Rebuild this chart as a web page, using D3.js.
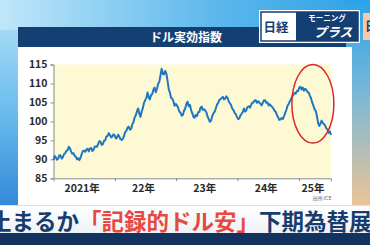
<!DOCTYPE html>
<html>
<head>
<meta charset="utf-8">
<script src="https://cdn.jsdelivr.net/npm/d3@7"></script>
<style>
  html, body { margin: 0; padding: 0; overflow: hidden; }
  body { width: 370px; height: 245px; }
  text { font-family: "Noto Sans CJK JP", "Noto Sans", sans-serif; }
</style>
</head>
<body>
<div id="chart"></div>
<script>
// dollar effective index, weekly from 2021-01-01
const startDate = "2021-01-01";
const stepDays = 7;
const indexValues = [
  89.8, 90.9, 90.5, 89.9, 90.2, 91.1, 91.0, 90.2, 90.6, 91.4,
  91.6, 92.3, 92.4, 93.3, 92.9, 92.0, 91.5, 91.6, 90.9, 90.7,
  90.0, 90.3, 89.8, 90.4, 91.4, 92.2, 92.3, 92.0, 92.6, 92.8,
  92.1, 92.9, 93.0, 92.2, 92.5, 93.3, 93.4, 93.3, 94.1, 94.8,
  94.6, 93.8, 94.0, 94.9, 95.0, 96.0, 96.2, 96.9, 96.4, 95.8,
  96.0, 96.6, 96.3, 95.5, 95.7, 96.5, 96.0, 95.3, 95.1, 95.4,
  96.2, 97.2, 97.5, 98.4, 98.6, 97.8, 98.0, 99.2, 99.8, 101.0,
  101.6, 102.7, 103.4, 102.0, 101.2, 102.6, 103.5, 104.9, 105.6, 106.2,
  107.6, 106.3, 105.8, 107.0, 107.2, 108.4, 108.9, 107.7, 108.6, 109.9,
  110.4, 112.2, 113.9, 112.5, 112.4, 113.3, 112.6, 110.7, 108.5, 107.6,
  106.2, 106.0, 105.3, 104.1, 104.6, 104.2, 103.6, 102.6, 102.3, 101.5,
  101.7, 102.8, 103.4, 104.6, 105.2, 104.0, 104.4, 103.0, 102.2, 101.2,
  101.0, 101.7, 101.4, 102.4, 102.5, 103.6, 103.9, 103.0, 103.2, 102.9,
  102.4, 101.3, 100.6, 99.9, 100.2, 101.4, 102.1, 102.5, 103.4, 104.4,
  104.8, 105.6, 105.9, 106.1, 106.5, 105.8, 106.0, 106.6, 106.2, 105.3,
  104.8, 104.3, 103.4, 103.0, 102.3, 101.9, 101.2, 100.6, 100.8, 101.6,
  102.0, 102.5, 103.4, 102.6, 103.0, 103.8, 104.0, 103.6, 104.3, 104.9,
  105.0, 105.5, 105.6, 104.9, 105.3, 105.0, 104.6, 104.2, 104.9, 105.6,
  105.5, 104.9, 105.0, 104.2, 104.5, 104.1, 103.8, 103.4, 102.8, 102.5,
  101.7, 101.1, 100.4, 100.5, 100.9, 100.6, 101.3, 102.2, 103.0, 104.1,
  104.6, 105.3, 105.8, 106.6, 107.0, 107.5, 107.3, 108.0, 108.0, 108.9,
  109.1, 108.4, 108.9, 108.1, 108.6, 108.3, 107.8, 107.6, 106.8, 106.1,
  105.0, 104.2, 103.2, 102.8, 101.4, 99.6, 98.8, 99.4, 100.2, 99.6,
  99.3, 98.9, 98.2, 97.8, 97.0, 97.4, 96.4
];
const yTicks = [85, 90, 95, 100, 105, 110, 115];
const yearStarts = ["2021-01-01", "2022-01-01", "2023-01-01", "2024-01-01", "2025-01-01"];
const yearLabels = ["2021年", "22年", "23年", "24年", "25年"];
// the circled stretch (start, end) and its value range
const circledDates = ["2024-11-20", "2025-07-28"];
const circledValues = [94.3, 115.0];

const titleText = "ドル実効指数";
const sourceText = "出所:ICE";
const headlineParts = [
  { text: "止まるか", color: "#163d6e" },
  { text: "「記録的ドル安」", color: "#e8493f" },
  { text: "下期為替展望", color: "#163d6e" }
];

const W = 370, H = 245;
const parse = d3.timeParse("%Y-%m-%d");
const t0 = parse(startDate);
const series = indexValues.map((v, i) => ({ date: d3.timeDay.offset(t0, i * stepDays), value: v }));

const svg = d3.select("#chart").append("svg")
    .attr("width", W)
    .attr("height", H);

const defs = svg.append("defs");
function gradient(id, x2, y2, stops) {
    const g = defs.append("linearGradient").attr("id", id)
        .attr("x1", 0).attr("y1", 0).attr("x2", x2).attr("y2", y2);
    stops.forEach(s => g.append("stop").attr("offset", s[0]).attr("stop-color", s[1]));
}
gradient("bgLeft", 0, 1, [[0, "#b7e3f8"], [0.45, "#6bbdee"], [1, "#1b74cf"]]);
gradient("bgTop", 1, 0, [[0, "#bfe7f9"], [0.6, "#5ab6ec"], [1, "#2ea2e6"]]);
gradient("bgRight", 0, 1, [[0, "#2aa3e8"], [0.45, "#78b8d8"], [1, "#ecc497"]]);
gradient("band", 0, 1, [[0, "#ffffff"], [1, "#eef2f6"]]);

// backdrop
svg.append("rect").attr("width", W).attr("height", H).attr("fill", "url(#bgLeft)");
svg.append("rect").attr("width", W).attr("height", 30).attr("fill", "url(#bgTop)");
svg.append("rect").attr("x", 345).attr("y", 0).attr("width", 25).attr("height", 206).attr("fill", "url(#bgRight)");

// white panel and title bar
svg.append("rect").attr("x", 18).attr("y", 47).attr("width", 334).attr("height", 159).attr("fill", "#ffffff");
svg.append("rect").attr("x", 18).attr("y", 27).attr("width", 328).attr("height", 20).attr("fill", "#143f73");
svg.append("text")
    .attr("x", 186).attr("y", 41.5)
    .attr("text-anchor", "middle")
    .attr("fill", "#ffffff")
    .attr("font-size", 12)
    .attr("font-weight", "bold")
    .text(titleText);

// logo
const logo = svg.append("g");
logo.append("rect").attr("x", 259).attr("y", 10).attr("width", 101).attr("height", 33).attr("fill", "#ffffff");
logo.append("rect").attr("x", 261).attr("y", 12).attr("width", 97).attr("height", 29)
    .attr("fill", "#ffffff").attr("stroke", "#143f73").attr("stroke-width", 1.5);
logo.append("rect").attr("x", 296).attr("y", 12).attr("width", 62).attr("height", 29).attr("fill", "#143f73");
logo.append("text").attr("x", 276).attr("y", 32).attr("text-anchor", "middle")
    .attr("font-size", 12.5).attr("font-weight", "bold").attr("fill", "#143f73").text("日経");
logo.append("text").attr("x", 327).attr("y", 20.5).attr("text-anchor", "middle")
    .attr("font-size", 7.5).attr("font-weight", "bold").attr("fill", "#ffffff").text("モーニング");
logo.append("text").attr("x", 333).attr("y", 37).attr("text-anchor", "middle")
    .attr("font-size", 13).attr("font-weight", "bold").attr("font-style", "italic")
    .attr("fill", "#ffffff").text("プラス");
svg.append("rect").attr("x", 363).attr("y", 13).attr("width", 7).attr("height", 27).attr("fill", "#f6c9a6");
svg.append("text").attr("x", 365).attr("y", 31).attr("font-size", 12).attr("font-weight", "bold")
    .attr("fill", "#143f73").text("日");

// plot area
const margin = { left: 53.5, right: 331, top: 64.5, bottom: 178.3 };
const x = d3.scaleTime()
    .domain([t0, series[series.length - 1].date])
    .range([margin.left, margin.right]);
const y = d3.scaleLinear()
    .domain([85, 115])
    .range([margin.bottom, margin.top]);

svg.append("rect")
    .attr("x", margin.left).attr("y", margin.top)
    .attr("width", margin.right - margin.left).attr("height", margin.bottom - margin.top)
    .attr("fill", "#fdf9d4");

// y axis
const yAxis = svg.append("g")
    .attr("transform", `translate(${margin.left},0)`)
    .call(d3.axisLeft(y).tickValues(yTicks).tickSize(3).tickPadding(3));
yAxis.select(".domain").attr("stroke", "#8a8a8a");
yAxis.selectAll(".tick line").attr("stroke", "#8a8a8a");
yAxis.selectAll(".tick text")
    .attr("font-family", "\"Noto Sans CJK JP\", sans-serif")
    .attr("font-size", 10.5)
    .attr("font-weight", "bold")
    .attr("fill", "#2a2a2a");

// x axis, ticks at year starts, labels centred in each year
const yearDates = yearStarts.map(parse);
const xAxis = svg.append("g")
    .attr("transform", `translate(0,${margin.bottom})`)
    .call(d3.axisBottom(x).tickValues(yearDates.slice(1)).tickSize(3).tickFormat(""));
xAxis.select(".domain").attr("stroke", "#8a8a8a");
xAxis.selectAll(".tick line").attr("stroke", "#8a8a8a");

const xEnd = x.domain()[1];
svg.append("g").selectAll("text")
    .data(yearDates)
    .enter().append("text")
    .attr("x", (d, i) => (x(d) + x(i + 1 < yearDates.length ? yearDates[i + 1] : xEnd)) / 2 - 2)
    .attr("y", 192)
    .attr("text-anchor", "middle")
    .attr("font-size", 10.5)
    .attr("font-weight", "bold")
    .attr("fill", "#2a2a2a")
    .text((d, i) => yearLabels[i]);

svg.append("text")
    .attr("x", 322).attr("y", 200)
    .attr("text-anchor", "middle")
    .attr("font-size", 5)
    .attr("fill", "#666")
    .text(sourceText);

// the index line
const line = d3.line()
    .x(d => x(d.date))
    .y(d => y(d.value));
svg.append("path")
    .datum(series)
    .attr("d", line)
    .attr("fill", "none")
    .attr("stroke", "#1f78bf")
    .attr("stroke-width", 2)
    .attr("stroke-linejoin", "round");

// red ellipse round the recent drop
const cx0 = x(parse(circledDates[0])), cx1 = x(parse(circledDates[1]));
const cy0 = y(circledValues[0]), cy1 = y(circledValues[1]);
svg.append("ellipse")
    .attr("cx", (cx0 + cx1) / 2)
    .attr("cy", (cy0 + cy1) / 2)
    .attr("rx", (cx1 - cx0) / 2)
    .attr("ry", (cy0 - cy1) / 2)
    .attr("fill", "none")
    .attr("stroke", "#d8282c")
    .attr("stroke-width", 1.5);

// headline band
svg.append("rect").attr("x", 0).attr("y", 205).attr("width", W).attr("height", 28).attr("fill", "url(#band)");
svg.append("rect").attr("x", 0).attr("y", 205).attr("width", W).attr("height", 1).attr("fill", "#cfe3f2");
svg.append("rect").attr("x", 0).attr("y", 233).attr("width", W).attr("height", 12).attr("fill", "#13335f");

const headline = svg.append("text")
    .attr("x", -11).attr("y", 230)
    .attr("font-size", 22.5)
    .attr("font-weight", "bold");
headline.selectAll("tspan")
    .data(headlineParts)
    .enter().append("tspan")
    .attr("fill", d => d.color)
    .text(d => d.text);
</script>
</body>
</html>
